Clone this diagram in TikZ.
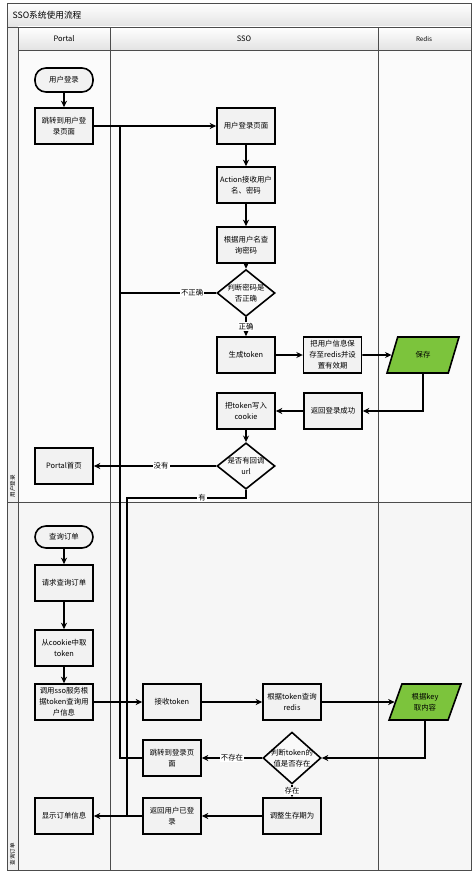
\documentclass[tikz,border=0pt]{standalone}
\usepackage{fontspec}
\setmainfont{Noto Sans CJK SC}
\usetikzlibrary{shapes.geometric,arrows.meta,positioning}

\definecolor{keygreen}{RGB}{124,196,60}
\tikzset{
  box/.style={draw, line width=1.6pt, fill=gray!10, minimum width=58pt, minimum height=36pt,
    align=center, inner sep=1pt, font=\fontsize{7.4}{11}\selectfont},
  term/.style={box, rounded corners=11pt, minimum height=24pt},
  decide/.style={draw, diamond, line width=1.6pt, fill=gray!5, minimum width=58pt,
    minimum height=36pt, inner sep=-2pt, align=center, font=\fontsize{7.4}{11}\selectfont},
  redisbox/.style={draw, trapezium, trapezium left angle=68, trapezium right angle=112,
    trapezium stretches=true, fill=keygreen, line width=1.6pt, minimum width=72pt,
    minimum height=36pt, align=center, inner sep=1pt, font=\fontsize{7.4}{11}\selectfont},
  flow/.style={line width=1.6pt, -{Stealth[length=6.5pt,width=6pt]}},
  link/.style={line width=1.6pt},
  cond/.style={fill=white, inner sep=1pt, font=\fontsize{7.4}{8}\selectfont},
  lane/.style={draw=gray!60!black, line width=0.7pt},
  head/.style={font=\fontsize{7.5}{8}\selectfont}
}

\begin{document}
\begin{tikzpicture}[x=1pt,y=-1pt]
  \useasboundingbox (0,0) rectangle (475,875);
  % lanes
  \fill[gray!3] (18,50) rectangle (471,502);
  \fill[gray!7] (18,502) rectangle (471,870);
  \fill[gray!12] (7,27) rectangle (18,870);
  \shade[top color=white, bottom color=gray!22] (7,3) rectangle (471,27);
  \shade[top color=white, bottom color=gray!22] (18,27) rectangle (471,50);
  \draw[lane] (7,3) rectangle (471,870);
  \draw[lane] (7,27) -- (471,27);
  \draw[lane] (18,50) -- (471,50);
  \draw[lane] (18,27) -- (18,870);
  \draw[lane] (110,27) -- (110,870);
  \draw[lane] (378,27) -- (378,870);
  \draw[lane] (7,502) -- (471,502);
  \node[anchor=west, font=\fontsize{8.7}{9}\selectfont] (title) at (9,15) {SSO系统使用流程};
  \node[head] (hportal) at (64,39) {Portal};
  \node[head] (hsso) at (244,39) {SSO};
  \node[head, font=\fontsize{6.3}{7}\selectfont] (hredis) at (424,39) {Redis};
  \node[rotate=90, font=\fontsize{5.5}{6}\selectfont] (lanelogin) at (12.5,486) {用户登录};
  \node[rotate=90, font=\fontsize{5.5}{6}\selectfont] (laneorder) at (12.5,854) {查询订单};

  % 用户登录
  \node[term] (start1) at (64,80) {用户登录};
  \node[box] (jump) at (64,126) {跳转到用户登\\录页面};
  \node[box] (loginpage) at (246,126) {用户登录页面};
  \node[box] (action) at (246,185) {Action接收用户\\名、密码};
  \node[box] (query) at (246,245) {根据用户名查\\询密码};
  \node[decide] (chk) at (246,293) {判断密码是\\否正确};
  \node[box] (gentok) at (246,355) {生成token};
  \node[box] (saveinfo) [right=27pt of gentok] {把用户信息保\\存至redis并设\\置有效期};
  \node[redisbox] (save) at (423,355) {保存};
  \node[box] (okback) at (333,411) {返回登录成功};
  \node[box] (cookie) at (246,411) {把token写入\\cookie};
  \node[decide] (url) at (246,466) {是否有回调\\url};
  \node[box] (home) at (64,466) {Portal首页};
  \coordinate (backL) at (120,126);
  \coordinate (backR) at (127,815);

  \draw[flow] (start1) -- (jump);
  \draw[flow] (jump) -- (loginpage);
  \draw[flow] (loginpage) -- (action);
  \draw[flow] (action) -- (query);
  \draw[flow] (query) -- (chk);
  \draw[flow] (chk) -- node[cond]{正确} (gentok);
  \draw[link] (chk.west) -- node[cond, pos=0.25]{不正确} (chk.west -| backL);
  \draw[flow] (gentok) -- (saveinfo);
  \draw[flow] (saveinfo) -- (save);
  \draw[flow] (save.south) |- (okback);
  \draw[flow] (okback) -- (cookie);
  \draw[flow] (cookie) -- (url);
  \draw[flow] (url) -- node[cond, pos=0.45]{没有} (home);
  \draw[link] (url.south) -- ++(0,8) coordinate (hasurl)
    -- node[cond, pos=0.37]{有} (hasurl -| backR) -- (backR);

  % 查询订单
  \node[term, minimum height=22pt] (start2) at (64,537) {查询订单};
  \node[box] (req) at (64,583) {请求查询订单};
  \node[box] (fromck) at (64,648) {从cookie中取\\token};
  \node[box] (callsso) at (64,702) {调用sso服务根\\据token查询用\\户信息};
  \node[box] (recv) at (172,702) {接收token};
  \node[box] (qredis) at (292,702) {根据token查询\\redis};
  \node[redisbox] (getkey) at (425,702) {根据key\\取内容};
  \node[decide] (exist) at (292,758) {判断token的\\值是否存在};
  \node[box] (relogin) at (172,758) {跳转到登录页\\面};
  \node[box] (renew) at (292,816) {调整生存期为};
  \node[box] (logged) at (172,816) {返回用户已登\\录};
  \node[box] (show) at (64,816) {显示订单信息};

  \draw[flow] (start2) -- (req);
  \draw[flow] (req) -- (fromck);
  \draw[flow] (fromck) -- (callsso);
  \draw[flow] (callsso) -- (recv);
  \draw[flow] (recv) -- (qredis);
  \draw[flow] (qredis) -- (getkey);
  \draw[flow] (getkey.south) |- (exist);
  \draw[flow] (exist) -- node[cond]{不存在} (relogin);
  \draw[flow] (exist) -- node[cond]{存在} (renew);
  \draw[flow] (renew) -- (logged);
  \draw[flow] (logged) -- (show);
  \draw[link] (relogin.west) -- (relogin.west -| backL) -- (backL);
\end{tikzpicture}
\end{document}
